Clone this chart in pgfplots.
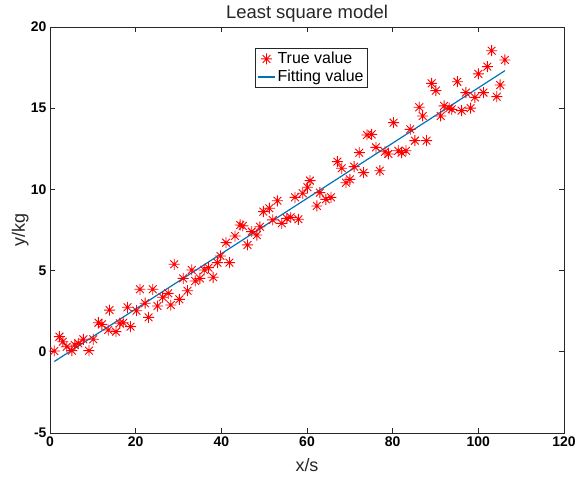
\documentclass[border=0pt]{standalone}
\usepackage{fontspec}
\setmainfont{Liberation Sans}
\usepackage{pgfplots}
\pgfplotsset{compat=1.18}
\definecolor{mblue}{rgb}{0,0.447,0.741}
\definecolor{mgray}{rgb}{0.15,0.15,0.15}
% MATLAB-style '*' marker: plus and cross together
\pgfdeclareplotmark{mstar}{%
  \pgfpathmoveto{\pgfqpoint{-\pgfplotmarksize}{0pt}}\pgfpathlineto{\pgfqpoint{\pgfplotmarksize}{0pt}}%
  \pgfpathmoveto{\pgfqpoint{0pt}{-\pgfplotmarksize}}\pgfpathlineto{\pgfqpoint{0pt}{\pgfplotmarksize}}%
  \pgfpathmoveto{\pgfqpoint{-0.7071\pgfplotmarksize}{-0.7071\pgfplotmarksize}}\pgfpathlineto{\pgfqpoint{0.7071\pgfplotmarksize}{0.7071\pgfplotmarksize}}%
  \pgfpathmoveto{\pgfqpoint{-0.7071\pgfplotmarksize}{0.7071\pgfplotmarksize}}\pgfpathlineto{\pgfqpoint{0.7071\pgfplotmarksize}{-0.7071\pgfplotmarksize}}%
  \pgfusepathqstroke}

\begin{document}
\begin{tikzpicture}
\begin{axis}[
    name=ax,
    scale only axis,
    width=514bp, height=406bp,
    xmin=0, xmax=120, ymin=-5, ymax=20,
    xtick={0,20,...,120}, ytick={-5,0,...,20},
    tick align=inside,
    major tick length=5bp,
    axis line style={mgray, line width=0.9pt},
    every tick/.style={mgray, line width=0.8pt},
    tick label style={font=\fontsize{14}{14}\selectfont\bfseries, black},
    /pgf/number format/assume math mode=true,
    xlabel={x/s}, ylabel={y/kg},
    xlabel style={font=\fontsize{18}{18}\selectfont, mgray, at={(axis description cs:0.5,-0.079)}, anchor=center},
    ylabel style={font=\fontsize{18}{18}\selectfont, mgray, at={(axis description cs:-0.058,0.5)}, anchor=center},
    legend cell align=left,
    legend style={at={(0.399,0.948)}, anchor=north west, draw=mgray, line width=0.6pt,
        font=\fontsize{16}{18}\selectfont, inner sep=2pt, row sep=1pt},
]
\addplot[only marks, mark=mstar, mark size=5.5bp, red, mark options={line width=0.9pt}] table {
1.0 0.05
2.2 0.93
3.0 0.62
3.9 0.31
5.1 0.07
5.8 0.42
6.6 0.52
7.8 0.77
9.1 0.07
10.1 0.77
11.3 1.79
12.1 1.69
13.6 1.34
13.9 2.57
15.4 1.24
16.3 1.76
17.1 1.79
18.1 2.74
18.8 1.55
20.2 2.53
21.0 3.85
22.2 2.99
23.0 2.12
24.0 3.85
25.1 2.82
26.3 3.36
27.6 3.60
28.2 2.88
29.0 5.39
30.2 3.23
31.1 4.52
32.1 3.76
33.1 5.04
33.9 4.36
35.0 4.52
36.0 5.04
37.0 5.18
38.1 4.59
39.1 5.49
39.8 5.90
41.1 6.72
41.9 5.49
43.2 7.13
44.4 7.81
45.0 7.75
46.1 6.58
47.1 7.40
48.3 7.19
49.0 7.70
49.8 8.63
51.2 8.84
52.0 8.12
53.1 9.30
54.1 7.91
55.3 8.22
56.2 8.28
57.2 9.51
58.0 8.16
59.0 9.76
60.1 10.13
60.7 10.54
62.3 8.98
63.0 9.80
64.4 9.39
65.6 9.51
67.1 11.71
68.1 11.30
69.1 10.41
70.0 10.62
71.0 11.40
72.2 12.26
73.2 11.03
74.0 13.35
75.1 13.39
76.1 12.59
77.0 11.15
78.2 12.32
79.0 12.18
80.2 14.11
81.3 12.38
82.1 12.26
83.1 12.38
84.1 13.70
85.2 13.00
86.2 15.06
87.0 14.52
87.9 13.00
89.1 16.53
90.1 16.08
91.2 14.52
92.0 15.14
93.2 15.00
93.8 14.93
95.1 16.63
96.1 14.85
97.1 15.96
98.2 15.00
99.2 15.67
100.0 17.11
101.2 15.96
102.1 17.56
103.1 18.54
104.3 15.71
105.1 16.43
106.2 17.97
};
\addlegendentry{True value}
\addplot[mblue, line width=1.2pt, no marks] table {
1.0 -0.60
106.2 17.31
};
\addlegendentry{Fitting value}
\end{axis}
\node[anchor=base, font=\fontsize{18.5}{18.5}\selectfont, text=mgray, inner sep=0pt]
  at ([yshift=8bp]ax.north) {Least square model};
\pgfresetboundingbox
\path ([xshift=-50bp,yshift=-46bp]ax.south west) rectangle ([xshift=13bp,yshift=27bp]ax.north east);
\end{tikzpicture}
\end{document}
